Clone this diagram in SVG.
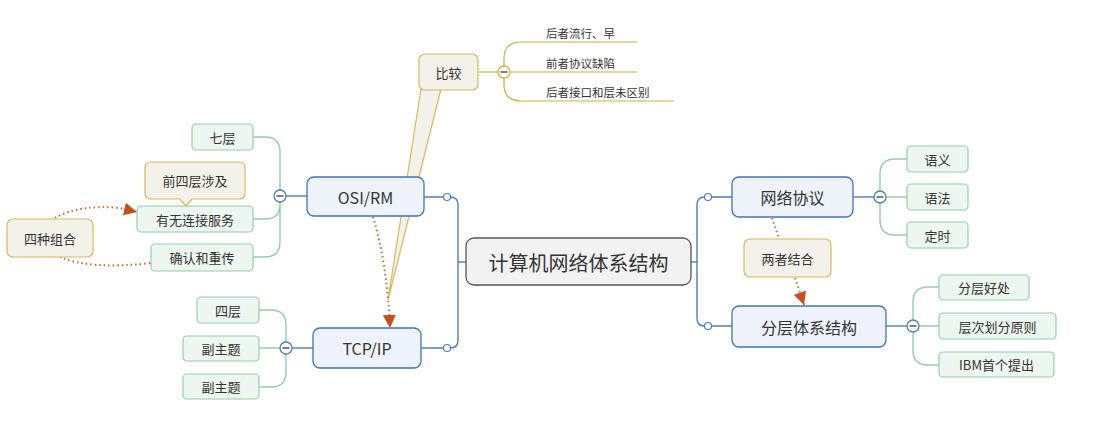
<svg xmlns="http://www.w3.org/2000/svg" width="1111" height="423" viewBox="0 0 1111 423">
<style>
text{font-family:"Noto Sans CJK SC","Noto Sans",sans-serif;fill:#333;dominant-baseline:central;text-anchor:middle}
.main{fill:#eef3fb;stroke:#3f74b8;stroke-width:1.3}
.sub{fill:#edf6ef;stroke:#92d0a6;stroke-width:1.2}
.call{fill:#f3f2ea;stroke:#d8b85a;stroke-width:1.2}
.center{fill:#f2f2f2;stroke:#555;stroke-width:1.3}
.bl{fill:none;stroke:#4a7fc1;stroke-width:1.4}
.gl{fill:none;stroke:#92d0a6;stroke-width:1.4}
.yl{fill:none;stroke:#d3ad3c;stroke-width:1.2}
.rel{fill:none;stroke:#d0662a;stroke-width:2;stroke-dasharray:1.5 3}
.dot{fill:#fff;stroke:#4a7fc1;stroke-width:1.2}
.col{fill:#fff;stroke-width:1.3}
.t16{font-size:16px}.t13{font-size:13px}.t12{font-size:12px}
.lt{font-size:11.5px;text-anchor:start}
</style>
<defs>
<marker id="ah" viewBox="0 0 10 10" refX="10" refY="5" markerWidth="13" markerHeight="13" markerUnits="userSpaceOnUse" orient="auto">
<path d="M0,0 L10,5 L0,10 Z" fill="#c4501b"/>
</marker>
</defs>

<!-- callout tail behind -->
<path d="M421,89 L388,300 L441,89 Z" fill="#f3f2ea" stroke="#d8b85a" stroke-width="1.2"/>

<g id="connectors">
<path class="bl" d="M466,262 H458"/>
<path class="bl" d="M424,197 H443.5 M450.5,197 Q458,197 458,205 V340 Q458,348 450.5,348 M443.5,348 H421"/>
<path class="bl" d="M691,262 H697"/>
<path class="bl" d="M732,197 H711.5 M704.5,197 Q697,197 697,205 V318 Q697,326 704.5,326 M711.5,326 H732"/>
<path class="bl" d="M307,196 H286"/>
<path class="gl" d="M274,196 H280 M280,190 V152 Q280,137 265,137 H253 M280,202 V204 Q280,219 265,219 H253 M280,202 V242 Q280,257 265,257 H253"/>
<path class="bl" d="M313,348 H292"/>
<path class="gl" d="M286,342 V325 Q286,310 271,310 H259 M280,348 H259 M286,354 V372 Q286,387 271,387 H259"/>
<path class="bl" d="M853,197 H874"/>
<path class="gl" d="M880,191 V174 Q880,159 895,159 H907 M886,197 H907 M880,203 V220 Q880,235 895,235 H907"/>
<path class="bl" d="M886,326 H907"/>
<path class="gl" d="M913,320 V302 Q913,287 928,287 H939 M919,326 H939 M913,332 V350 Q913,365 928,365 H939"/>
<path class="yl" d="M478,72 H498"/>
<path class="yl" d="M504,66 V58 Q504,42 522,42 H637 M510,72 H637 M504,78 V85 Q504,101 522,101 H674"/>
<path class="rel" d="M55,218 Q80,204 120,208 L137,212" marker-end="url(#ah)"/>
<path class="rel" d="M60,257 Q90,270 151,263"/>
<path class="rel" d="M373,217 Q387,262 390,328" marker-end="url(#ah)"/>
<path class="rel" d="M772,218 L779,238"/>
<path class="rel" d="M795,278 L804,305" marker-end="url(#ah)"/>
<circle class="dot" cx="447" cy="197" r="3.5"/>
<circle class="dot" cx="447" cy="348" r="3.5"/>
<circle class="dot" cx="708" cy="197" r="3.5"/>
<circle class="dot" cx="708" cy="326" r="3.5"/>
</g>

<g id="center"><rect class="center" x="466" y="238" width="225" height="47" rx="8"/><text x="578.5" y="262" style="font-size:20px">计算机网络体系结构</text></g>

<g id="osi"><rect class="main" x="307" y="177" width="117" height="39" rx="7"/><text class="t16" x="365.5" y="196.5">OSI/RM</text>
<circle class="col" cx="280" cy="196" r="6" stroke="#4a7fc1"/><path d="M276.5,196 H283.5" stroke="#555" stroke-width="1.5"/></g>
<g id="osi-7"><rect class="sub" x="192" y="124" width="61" height="26" rx="4"/><text class="t13" x="222.5" y="137">七层</text></g>
<g id="osi-conn"><rect class="sub" x="137" y="206" width="116" height="26" rx="4"/><text class="t13" x="195" y="219">有无连接服务</text></g>
<g id="osi-ack"><rect class="sub" x="151" y="244" width="102" height="27" rx="4"/><text class="t13" x="202" y="257.5">确认和重传</text></g>
<g id="note-four"><path class="call" d="M151,162 H239 Q245,162 245,168 V193 Q245,199 239,199 H192 L186,206 L180,199 H151 Q145,199 145,193 V168 Q145,162 151,162 Z"/><text class="t13" x="195" y="180.5">前四层涉及</text></g>
<g id="combo"><rect class="call" x="7" y="219" width="86" height="38" rx="6"/><text class="t13" x="50" y="238">四种组合</text></g>

<g id="tcp"><rect class="main" x="313" y="328" width="108" height="40" rx="7"/><text class="t16" x="367" y="348">TCP/IP</text>
<circle class="col" cx="286" cy="348" r="6" stroke="#4a7fc1"/><path d="M282.5,348 H289.5" stroke="#555" stroke-width="1.5"/></g>
<g id="tcp-4"><rect class="sub" x="197" y="297" width="62" height="26" rx="4"/><text class="t13" x="228" y="310">四层</text></g>
<g id="tcp-s1"><rect class="sub" x="183" y="336" width="76" height="25" rx="4"/><text class="t13" x="221" y="348.5">副主题</text></g>
<g id="tcp-s2"><rect class="sub" x="183" y="374" width="76" height="25" rx="4"/><text class="t13" x="221" y="386.5">副主题</text></g>

<g id="compare"><rect class="call" x="419" y="54" width="59" height="36" rx="6"/><text class="t13" x="448.5" y="72">比较</text>
<circle class="col" cx="504" cy="72" r="6" stroke="#d3ad3c"/><path d="M500.5,72 H507.5" stroke="#555" stroke-width="1.5"/></g>
<g id="cmp1"><text class="lt" x="546" y="33">后者流行、早</text></g>
<g id="cmp2"><text class="lt" x="546" y="63">前者协议缺陷</text></g>
<g id="cmp3"><text class="lt" x="546" y="92">后者接口和层未区别</text></g>

<g id="protocol"><rect class="main" x="732" y="177" width="121" height="40" rx="7"/><text class="t16" x="792.5" y="197">网络协议</text>
<circle class="col" cx="880" cy="197" r="6" stroke="#4a7fc1"/><path d="M876.5,197 H883.5" stroke="#555" stroke-width="1.5"/></g>
<g id="p1"><rect class="sub" x="907" y="146" width="61" height="26" rx="4"/><text class="t13" x="937.5" y="159">语义</text></g>
<g id="p2"><rect class="sub" x="907" y="184" width="61" height="26" rx="4"/><text class="t13" x="937.5" y="197">语法</text></g>
<g id="p3"><rect class="sub" x="907" y="222" width="61" height="26" rx="4"/><text class="t13" x="937.5" y="235">定时</text></g>
<g id="both"><rect class="call" x="744" y="239" width="87" height="38" rx="6"/><text class="t13" x="787.5" y="258">两者结合</text></g>

<g id="layer"><rect class="main" x="732" y="306" width="154" height="41" rx="7"/><text class="t16" x="809" y="326.5">分层体系结构</text>
<circle class="col" cx="913" cy="326" r="6" stroke="#4a7fc1"/><path d="M909.5,326 H916.5" stroke="#555" stroke-width="1.5"/></g>
<g id="l1"><rect class="sub" x="939" y="275" width="90" height="25" rx="4"/><text class="t13" x="984" y="287.5">分层好处</text></g>
<g id="l2"><rect class="sub" x="939" y="313" width="117" height="26" rx="4"/><text class="t13" x="997.5" y="326">层次划分原则</text></g>
<g id="l3"><rect class="sub" x="939" y="352" width="115" height="25" rx="4"/><text class="t13" x="996.5" y="364.5">IBM首个提出</text></g>
</svg>
